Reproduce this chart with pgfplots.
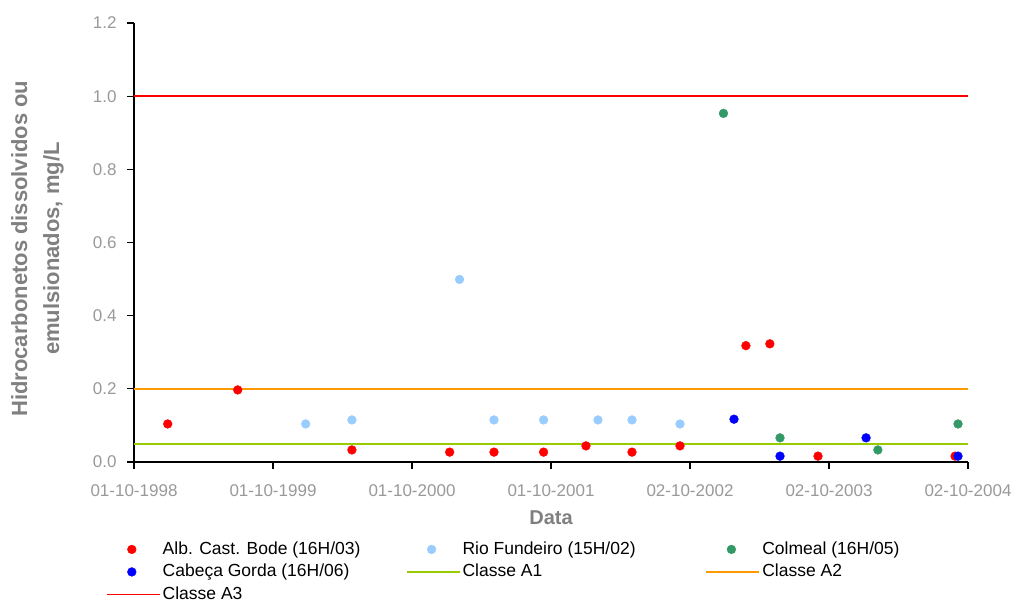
\documentclass[border=0pt]{standalone}
\usepackage{pgfplots}
\pgfplotsset{compat=1.18}
\usepackage{fontspec}
\setmainfont{Liberation Sans}
\definecolor{cRed}{HTML}{FF0000}
\definecolor{cLBlue}{HTML}{99CCFF}
\definecolor{cGreen}{HTML}{339966}
\definecolor{cBlue}{HTML}{0000FF}
\definecolor{cA1}{HTML}{99CC00}
\definecolor{cA2}{HTML}{FF9900}
\definecolor{cA3}{HTML}{FF0000}
\definecolor{tickgray}{HTML}{999999}
\definecolor{labelgray}{HTML}{808080}
\begin{document}
\begin{tikzpicture}
\useasboundingbox (-134pt,-139pt) rectangle (878pt,462pt);
\begin{axis}[
  scale only axis, width=834pt, height=439pt,
  at={(0pt,0pt)}, anchor=south west,
  xmin=0, xmax=2193, ymin=0, ymax=1.2,
  axis x line=bottom, axis y line=left,
  axis line style={-, line width=1.5pt, black},
  xtick={0,365.5,731,1096.5,1462,1827.5,2193},
  xticklabels={01-10-1998,01-10-1999,01-10-2000,01-10-2001,02-10-2002,02-10-2003,02-10-2004},
  ytick={0,0.2,0.4,0.6,0.8,1.0,1.2},
  yticklabel style={/pgf/number format/.cd, fixed, fixed zerofill, precision=1, /tikz/.cd, xshift=-7pt},
  xticklabel style={yshift=-12pt},
  /pgf/number format/assume math mode=true,
  tick align=outside, major tick length=7pt,
  tick style={black, line width=1.3pt},
  tick label style={font=\fontsize{17}{20}\selectfont, text=tickgray},
  xlabel={Data},
  xlabel style={font=\bfseries\fontsize{20}{24}\selectfont, text=labelgray, at={(axis description cs:0.5,-0.128)}, anchor=center},
  ylabel={Hidrocarbonetos dissolvidos ou\\emulsionados, mg/L},
  ylabel style={font=\bfseries\fontsize{22}{32}\selectfont, text=labelgray, align=center, at={(axis description cs:-0.1158,0.486)}, anchor=center, rotate=0},
  legend columns=3,
  legend cell align=left,
  legend image code/.code={\draw[mark repeat=2,mark phase=2,#1] plot coordinates {(0pt,0pt) (25pt,0pt) (53pt,0pt)};},
  legend style={at={(axis description cs:-0.0375,-0.1685)}, anchor=north west, draw=none, fill=none,
    font=\fontsize{17.5}{20}\selectfont, row sep=0pt,
    nodes={text height=13pt, text depth=3.5pt, inner ysep=3pt}},
  clip=false,
]
\addplot[only marks, mark=*, mark size=4.4pt, color=cRed] coordinates {
(88.6,0.104) (272.7,0.197) (573,0.033) (830,0.027) (946.6,0.027) (1077,0.027)
(1188.5,0.044) (1309.5,0.027) (1435.7,0.044) (1609,0.318) (1672,0.323)
(1798.6,0.016) (2159,0.016)};
\addlegendentry{\makebox[241pt][l]{Alb. Cast. Bode (16H/03)}}
\addplot[only marks, mark=*, mark size=4.4pt, color=cLBlue] coordinates {
(451.4,0.104) (573,0.115) (856,0.499) (946.6,0.115) (1077,0.115) (1220,0.115)
(1309.5,0.115) (1435.7,0.104)};
\addlegendentry{\makebox[241pt][l]{Rio Fundeiro (15H/02)}}
\addplot[only marks, mark=*, mark size=4.4pt, color=cGreen] coordinates {
(1550,0.953) (1698.7,0.066) (1956,0.033) (2166.7,0.104)};
\addlegendentry{\makebox[241pt][l]{Colmeal (16H/05)}}
\addplot[only marks, mark=*, mark size=4.4pt, color=cBlue] coordinates {
(1577.7,0.117) (1698.7,0.016) (1925,0.066) (2166.7,0.016)};
\addlegendentry{\makebox[241pt][l]{Cabeça Gorda (16H/06)}}
\addplot[color=cA1, line width=1.8pt, mark=none] coordinates {(0,0.05) (2193,0.05)};
\addlegendentry{\makebox[241pt][l]{Classe A1}}
\addplot[color=cA2, line width=1.8pt, mark=none] coordinates {(0,0.2) (2193,0.2)};
\addlegendentry{\makebox[241pt][l]{Classe A2}}
\addplot[color=cA3, line width=1.8pt, mark=none] coordinates {(0,1.0) (2193,1.0)};
\addlegendentry{\makebox[241pt][l]{Classe A3}}
\end{axis}
\end{tikzpicture}
\end{document}
